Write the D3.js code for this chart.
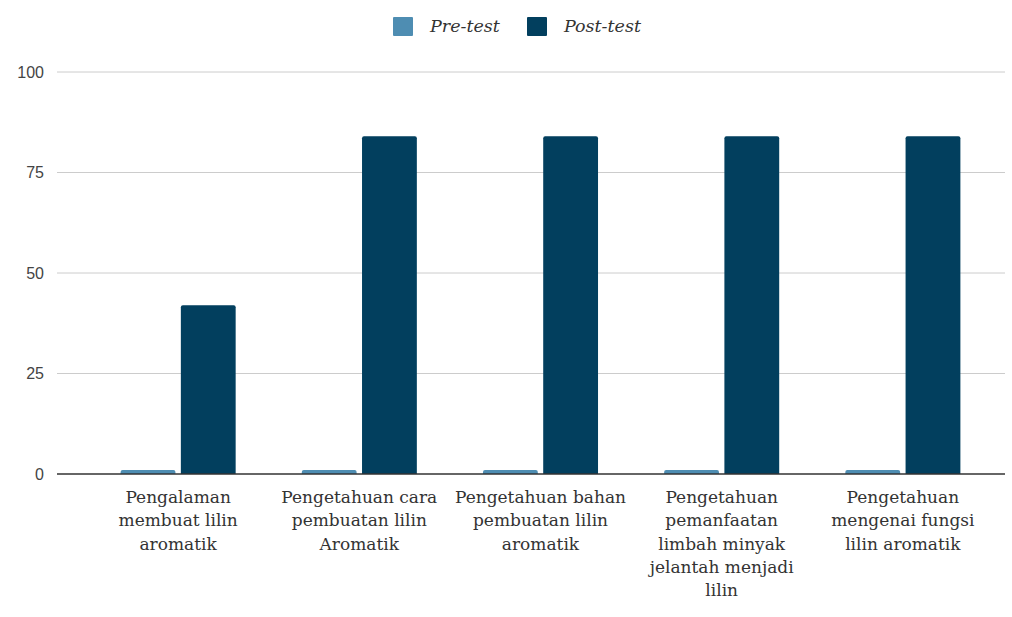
<!DOCTYPE html>
<html><head><meta charset="utf-8">
<script src="https://cdn.jsdelivr.net/npm/d3@7"></script>
<style>body{margin:0;background:#fff}</style>
</head><body>
<svg id="c" width="1012" height="617"></svg>
<script>
const categories = [
  ["Pengalaman","membuat lilin","aromatik"],
  ["Pengetahuan cara","pembuatan lilin","Aromatik"],
  ["Pengetahuan bahan","pembuatan lilin","aromatik"],
  ["Pengetahuan","pemanfaatan","limbah minyak","jelantah menjadi","lilin"],
  ["Pengetahuan","mengenai fungsi","lilin aromatik"]
];
const seriesNames = ["Pre-test","Post-test"];
const preTest = [1,1,1,1,1];
const postTest = [42,84,84,84,84];
const yTicks = [0,25,50,75,100];
const colors = ["#4e8db2","#023f5e"];

const serif = "'DejaVu Serif', serif";
const svg = d3.select("#c");
const y = d3.scaleLinear().domain([0,100]).range([474,72]);
const x = d3.scaleBand().domain(d3.range(categories.length)).range([88,993]).paddingInner(0.365).paddingOuter(0.18);
const xs = d3.scaleBand().domain(seriesNames).range([0,x.bandwidth()]).paddingInner(0.09);

// grid
svg.append("g").selectAll("line").data(yTicks.filter(d=>d>0)).join("line")
  .attr("x1",57).attr("x2",1005).attr("y1",d=>y(d)).attr("y2",d=>y(d))
  .attr("stroke","#cccccc").attr("stroke-width",1);

// y labels
svg.append("g").selectAll("text").data(yTicks).join("text")
  .attr("x",44).attr("y",d=>y(d)).attr("dy","0.35em").attr("text-anchor","end")
  .attr("font-family","'Liberation Sans', Arial, sans-serif").attr("font-size",16).attr("fill","#444")
  .text(d=>d);

const data = seriesNames.map((s,i)=>({name:s, values: i===0?preTest:postTest}));
const groups = svg.append("g").selectAll("g").data(data).join("g").attr("fill",(d,i)=>colors[i]);
groups.selectAll("path").data(d=>d.values.map((v,j)=>({v,j,name:d.name}))).join("path")
  .attr("d",d=>{
    const x0 = x(d.j)+xs(d.name), w = xs.bandwidth(), y0 = y(d.v), y1 = y(0), r = Math.min(2, (y1-y0)/2);
    return `M${x0},${y1}V${y0+r}Q${x0},${y0} ${x0+r},${y0}H${x0+w-r}Q${x0+w},${y0} ${x0+w},${y0+r}V${y1}Z`;
  });

// baseline
svg.append("line").attr("x1",57).attr("x2",1005).attr("y1",y(0)).attr("y2",y(0))
  .attr("stroke","#333").attr("stroke-width",1.5);

// x labels
const xl = svg.append("g").selectAll("text").data(categories).join("text")
  .attr("x",(d,i)=>x(i)+x.bandwidth()/2).attr("y",503).attr("text-anchor","middle")
  .attr("font-family",serif).attr("font-size",17).attr("fill","#333");
xl.selectAll("tspan").data(d=>d).join("tspan")
  .attr("x",function(){return this.parentNode.getAttribute("x");})
  .attr("dy",(d,i)=>i===0?0:23.3).text(d=>d);

// legend
const leg = svg.append("g");
const legX = [393,527];
seriesNames.forEach((s,i)=>{
  leg.append("rect").attr("x",legX[i]).attr("y",17).attr("width",20).attr("height",19).attr("fill",colors[i]).attr("rx",1);
  leg.append("text").attr("x",legX[i]+37).attr("y",32)
    .attr("font-family",serif).attr("font-style","italic")
    .attr("font-size",17.5).attr("fill","#333").text(s);
});
</script>
</body></html>
